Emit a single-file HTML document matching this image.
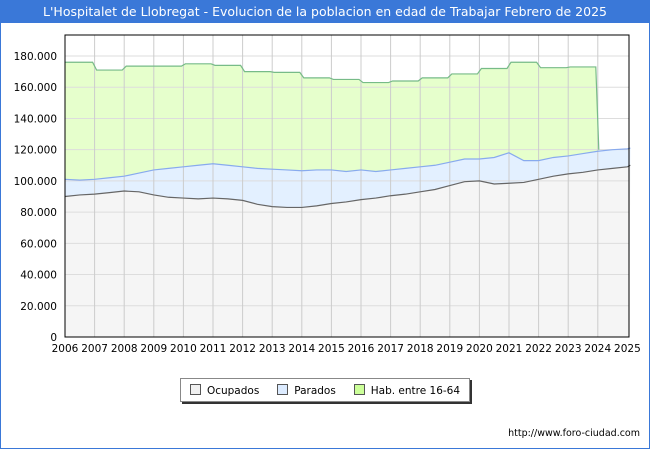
<!DOCTYPE html>
<html><head><meta charset="utf-8"><style>
body{margin:0;width:650px;height:450px;background:#fff;font-family:"DejaVu Sans","Liberation Sans",sans-serif;overflow:hidden;position:relative}
#title{position:absolute;left:0;top:0;width:650px;height:23px;background:#3a78d8;color:#fff;font-size:12.5px;line-height:23px;text-align:center}
#frame{position:absolute;left:0;top:23px;width:648px;height:425px;border:1px solid #3a78d8;border-top:none}
svg{position:absolute;left:0;top:0;font-family:"DejaVu Sans","Liberation Sans",sans-serif}
#legend{position:absolute;left:180px;top:378px;width:288px;height:22px;border:1px solid #888;box-shadow:2px 2px 0 #333;font-size:10.5px;display:flex;align-items:center;justify-content:space-around;background:#fff}
.sw{display:inline-block;width:9px;height:9px;border:1px solid #555;margin-right:6px;vertical-align:-1px}
#url{position:absolute;right:10px;top:428px;font-size:9.5px}
</style></head><body>
<div id="title">L'Hospitalet de Llobregat - Evolucion de la poblacion en edad de Trabajar Febrero de 2025</div>
<div id="frame"></div>
<svg id="chart" width="650" height="450"></svg>
<div id="legend">
<span><span class="sw" style="background:#f0f0f0"></span>Ocupados</span>
<span><span class="sw" style="background:#dcebff"></span>Parados</span>
<span><span class="sw" style="background:#ccff99"></span>Hab. entre 16-64</span>
</div>
<div id="url">http://www.foro-ciudad.com</div>
<script>
const years=[2006,2007,2008,2009,2010,2011,2012,2013,2014,2015,2016,2017,2018,2019,2020,2021,2022,2023];
const habValues=[176000,171000,173500,173500,175000,174000,170000,169500,166000,165000,163000,164000,166000,168500,172000,176000,172500,173000];
const halfYears=[2006,2006.5,2007,2007.5,2008,2008.5,2009,2009.5,2010,2010.5,2011,2011.5,2012,2012.5,2013,2013.5,2014,2014.5,2015,2015.5,2016,2016.5,2017,2017.5,2018,2018.5,2019,2019.5,2020,2020.5,2021,2021.5,2022,2022.5,2023,2023.5,2024,2024.5,2025,2025.1];
const activos=[101000,100500,101000,102000,103000,105000,107000,108000,109000,110000,111000,110000,109000,108000,107500,107000,106500,107000,107000,106000,107000,106000,107000,108000,109000,110000,112000,114000,114000,115000,118000,113000,113000,115000,116000,117500,119000,120000,120500,121000];
const ocupados=[90000,91000,91500,92500,93500,93000,91000,89500,89000,88500,89000,88500,87500,85000,83500,83000,83000,84000,85500,86500,88000,89000,90500,91500,93000,94500,97000,99500,100000,98000,98500,99000,101000,103000,104500,105500,107000,108000,109000,110000];
const yTicks=[0,20000,40000,60000,80000,100000,120000,140000,160000,180000];
const xTicks=[2006,2007,2008,2009,2010,2011,2012,2013,2014,2015,2016,2017,2018,2019,2020,2021,2022,2023,2024,2025];
const L=65,R=629,T=35,B=337;
const X=v=>L+(v-2006)*29.6;
const Y=v=>B-v*(281/180000);
const svg=document.getElementById('chart');const NS='http://www.w3.org/2000/svg';
function mk(t,a,p){const e=document.createElementNS(NS,t);for(const k in a)e.setAttribute(k,a[k]);(p||svg).appendChild(e);return e;}
const bg=mk('rect',{x:L,y:T,width:R-L,height:B-T,fill:'#fff'});


let hp=[];years.forEach((y,i)=>{hp.push([X(y)+2,Y(habValues[i])]);hp.push([X(y+1)-2,Y(habValues[i])]);});
hp[0][0]=X(2006);
const habTop=hp.map(p=>p.join(',')).join(' ');
const habEnd=[X(2024)+1,Y(120000)];
const habArea=mk('polygon',{points:habTop+' '+habEnd.join(',')+' '+(X(2024)+1)+','+B+' '+L+','+B,fill:'#e6ffcc'});


const actPts=halfYears.map((y,i)=>[X(y),Y(activos[i])]);
const actArea=mk('polygon',{points:actPts.map(p=>p.join(',')).join(' ')+' '+R+','+B+' '+L+','+B,fill:'#e3f0ff'});


const ocPts=halfYears.map((y,i)=>[X(y),Y(ocupados[i])]);
const ocArea=mk('polygon',{points:ocPts.map(p=>p.join(',')).join(' ')+' '+R+','+B+' '+L+','+B,fill:'#f5f5f5'});


yTicks.forEach(v=>{
 if(v>0){const g=mk('line',{x1:L,x2:R,y1:Y(v),y2:Y(v),stroke:'#ddd','stroke-width':1});
 
 }
 const t=mk('text',{x:L-8,y:Y(v)+4,'text-anchor':'end','font-size':10.5,fill:'#000'});
 t.textContent=v.toLocaleString('de-DE');
 
 
});
xTicks.forEach(y=>{
 if(y>2006&&y<2025){const g=mk('line',{x1:X(y),x2:X(y),y1:T,y2:B,stroke:'#ccc','stroke-width':1});
 
 }
 const t=mk('text',{x:X(y),y:B+15,'text-anchor':'middle','font-size':10.5,fill:'#000'});
 t.textContent=y;
 
 
});
const hl=mk('polyline',{points:habTop+' '+habEnd.join(','),fill:'none',stroke:'#77bb88','stroke-width':1.2});


const al=mk('polyline',{points:actPts.map(p=>p.join(',')).join(' '),fill:'none',stroke:'#88aaee','stroke-width':1.2});


const ol=mk('polyline',{points:ocPts.map(p=>p.join(',')).join(' '),fill:'none',stroke:'#666','stroke-width':1.2});


const fr=mk('rect',{x:L,y:T,width:R-L,height:B-T,fill:'none',stroke:'#000','stroke-width':1});


</script>
</body></html>
